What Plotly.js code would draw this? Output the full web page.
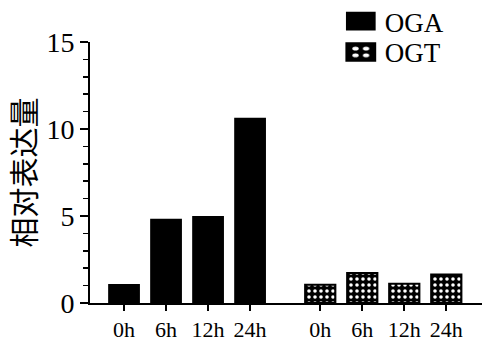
<!DOCTYPE html>
<html><head><meta charset="utf-8">
<script src="https://cdn.plot.ly/plotly-3.0.1.min.js"></script>
<style>html,body{margin:0;padding:0;background:#fff}</style>
</head><body><div id="chart" style="width:486px;height:341px"></div>
<script>
const timepoints = ["0h", "6h", "12h", "24h"];
const ogaValues = [1.05, 4.8, 4.95, 10.6];
const ogtValues = [1.05, 1.72, 1.1, 1.64];
const seriesNames = ["OGA", "OGT"];
const yTitle = "相对表达量";

const groupGap = 0.67;
const xOGA = timepoints.map((_, i) => i);
const xOGT = timepoints.map((_, i) => i + timepoints.length + groupGap);

const serif = "'Liberation Serif', 'Times New Roman', serif";
const legFont = {family: serif, size: 27, color: "#000"};

const traces = [
  {
    type: "bar", name: seriesNames[0], x: xOGA, y: ogaValues, width: 0.72, legend: "legend",
    marker: {color: "#000", line: {color: "#000", width: 1.5}}
  },
  {
    type: "bar", name: seriesNames[1], x: xOGT, y: ogtValues, width: 0.72, legend: "legend2",
    marker: {color: "#000", line: {color: "#000", width: 2},
      pattern: {shape: ".", bgcolor: "#000", fgcolor: "#fff", size: 6, solidity: 0.28, fillmode: "replace"}}
  }
];

const layout = {
  width: 486, height: 341,
  margin: {l: 90, r: 4, t: 42, b: 38, autoexpand: false},
  paper_bgcolor: "#fff", plot_bgcolor: "#fff",
  showlegend: true,
  barmode: "overlay",
  legend: {x: 0.65, xanchor: "left", y: 1.172, yanchor: "top", bgcolor: "rgba(0,0,0,0)", font: legFont},
  legend2: {x: 0.65, xanchor: "left", y: 1.054, yanchor: "top", bgcolor: "rgba(0,0,0,0)", font: legFont},
  xaxis: {
    range: [-0.81, 8.52], tickvals: xOGA.concat(xOGT), ticktext: timepoints.concat(timepoints),
    showline: true, linecolor: "#000", linewidth: 2, ticks: "outside", ticklen: 6, tickwidth: 2, tickcolor: "#000",
    showgrid: false, zeroline: false, tickfont: {family: serif, size: 22, color: "#000"}, fixedrange: true,
    automargin: false
  },
  yaxis: {
    range: [0, 15], tickvals: [0, 5, 10, 15], showline: true, linecolor: "#000", linewidth: 2,
    ticks: "outside", ticklen: 8, tickwidth: 2, tickcolor: "#000",
    minor: {dtick: 1, ticks: "outside", ticklen: 5, tickwidth: 1.5, tickcolor: "#000", showgrid: false},
    showgrid: false, zeroline: false, tickfont: {family: serif, size: 28, color: "#000"},
    title: {text: yTitle, font: {family: "'Noto Sans CJK SC', sans-serif", size: 30, color: "#000"}, standoff: 8},
    fixedrange: true, automargin: false
  }
};

Plotly.newPlot("chart", traces, layout, {displayModeBar: false, staticPlot: true}).then(gd => {
  // widen legend swatches to the wide rectangles of the original
  gd.querySelectorAll(".legendpoints path").forEach(p => {
    const t = p.getAttribute("transform") || "";
    p.setAttribute("transform", t + " translate(-4,0) scale(2.2,1.4)");
  });
});
</script></body></html>
